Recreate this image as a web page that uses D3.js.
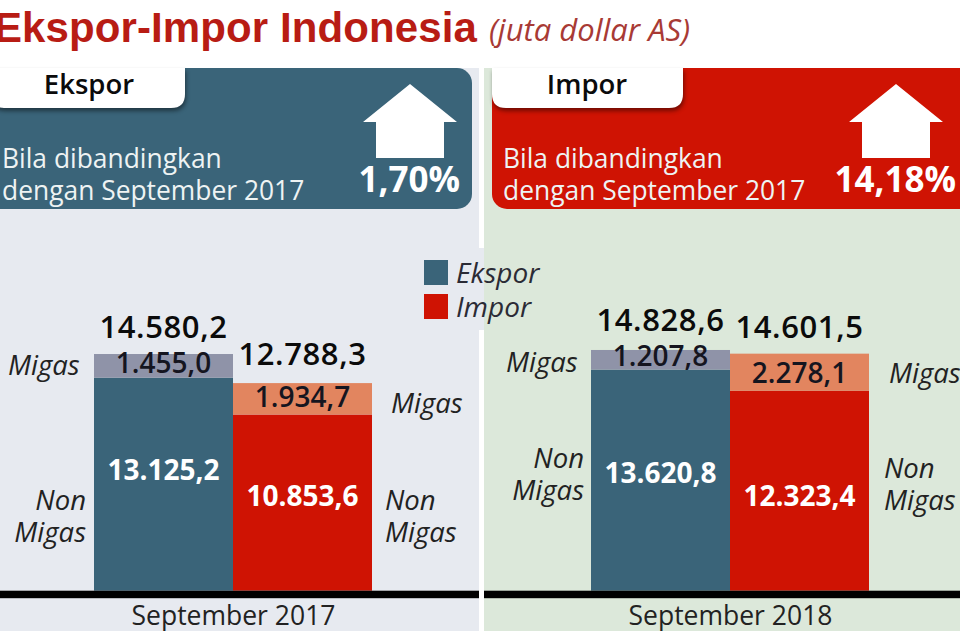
<!DOCTYPE html>
<html>
<head>
<meta charset="utf-8">
<script src="https://cdn.jsdelivr.net/npm/d3@7"></script>
<style>
  html, body { margin: 0; padding: 0; background: #fff; }
  svg { display: block; }
  text { font-family: "Open Sans", sans-serif; }
</style>
</head>
<body>
<div id="chart"></div>
<script>
/* Ekspor-impor Indonesia, juta dollar AS */
const periods = ["September 2017", "September 2018"];
const seriesNames = ["Ekspor", "Impor"];
const migas = [[1455.0, 1934.7], [1207.8, 2278.1]];
const nonMigas = [[13125.2, 10853.6], [13620.8, 12323.4]];
const totals = [[14580.2, 12788.3], [14828.6, 14601.5]];
const changes = ["1,70%", "14,18%"];

const width = 960, height = 631;
const baseY = 590.7;
const colors = { Ekspor: "#3a6479", Impor: "#cf1303" };
const migasColors = { Ekspor: "#8f93a8", Impor: "#e2855f" };
const panelBg = ["#e7eaf0", "#dce8da"];

// indonesian number format: 14.580,2
const idLocale = d3.formatLocale({ decimal: ",", thousands: ".", grouping: [3], currency: ["", ""] });
const fmt = idLocale.format(",.1f");

const svg = d3.select("#chart").append("svg")
    .attr("width", width).attr("height", height)
    .attr("viewBox", [0, 0, width, height]);

const x = d3.scalePoint().domain(periods).range([233, 730]);
const xInner = d3.scaleBand().domain(seriesNames).range([-139, 139]);
const y = d3.scaleLinear().domain([0, 15000]).range([baseY, baseY - 243.5]);

/* panel backgrounds */
const panelX = [0, 484], panelW = [479, 476];
svg.selectAll(".bg").data(periods).join("rect")
    .attr("class", "bg")
    .attr("x", (d, i) => panelX[i]).attr("y", 68)
    .attr("width", (d, i) => panelW[i]).attr("height", height - 68)
    .attr("fill", (d, i) => panelBg[i]);
/* legend patch bridges the gap */
svg.append("rect").attr("x", 479).attr("y", 248).attr("width", 5).attr("height", 82).attr("fill", panelBg[0]);

/* title */
svg.append("text").attr("x", -6).attr("y", 42)
    .style("font-family", "'Liberation Sans', Arial, sans-serif")
    .style("font-size", "42px").style("font-weight", 700).style("letter-spacing", "0.1px").attr("fill", "#b81c14")
    .text("Ekspor-Impor Indonesia");
svg.append("text").attr("x", 489).attr("y", 41)
    .style("font-size", "31px").style("font-style", "italic").attr("fill", "#a83a35")
    .text("(juta dollar AS)");

/* header boxes */
const boxX = [-14, 492], boxW = [486, 490];
const tabX = [-10, 492], tabW = [195, 191], tabTextX = [89, 587];
const arrowX = [410, 896];
const header = svg.selectAll(".header").data(seriesNames).join("g").attr("class", "header");
header.append("rect")
    .attr("x", (d, i) => boxX[i]).attr("y", 68)
    .attr("width", (d, i) => boxW[i]).attr("height", 141).attr("rx", 15)
    .attr("fill", d => colors[d]);
/* tab hangs from the top of the box: flat top, round bottom corners */
header.append("path")
    .attr("d", (d, i) => {
        const l = tabX[i], r = l + tabW[i], t = 68, b = 108, c = 14;
        return `M${l},${t} H${r} V${b - c} Q${r},${b} ${r - c},${b} H${l + c} Q${l},${b} ${l},${b - c} Z`;
    })
    .attr("fill", "#fff")
    .style("filter", "drop-shadow(1px 3px 2px rgba(0,0,0,.45))");
header.append("text")
    .attr("x", (d, i) => tabTextX[i]).attr("y", 94).attr("text-anchor", "middle")
    .style("font-size", "27.5px").style("font-weight", 600).attr("fill", "#0b0b0b")
    .text(d => d);
header.append("path")
    .attr("d", (d, i) => {
        const a = arrowX[i];
        return `M${a},84 L${a + 47},122 L${a + 34},122 L${a + 34},158 L${a - 34},158 L${a - 34},122 L${a - 47},122 Z`;
    })
    .attr("fill", "#fff");
header.each(function (d, i) {
    const g = d3.select(this);
    const tx = i ? 503 : 2;
    g.append("text").attr("x", tx).attr("y", 168).style("font-size", "26.4px").attr("fill", "#eef3f3").text("Bila dibandingkan");
    g.append("text").attr("x", tx).attr("y", 200).style("font-size", "26.4px").attr("fill", "#eef3f3").text("dengan September 2017");
    g.append("text").attr("x", i ? 956 : 460).attr("y", 192).attr("text-anchor", "end")
        .style("font-size", "35px").style("font-weight", 700).attr("fill", "#fff").text(changes[i]);
});

/* legend */
const legend = svg.selectAll(".legend").data(seriesNames).join("g").attr("class", "legend")
    .attr("transform", (d, i) => `translate(424,${260 + i * 34})`);
legend.append("rect").attr("width", 24).attr("height", 25).attr("fill", d => colors[d]);
legend.append("text").attr("x", 32).attr("y", 23)
    .style("font-size", "28px").style("font-style", "italic").attr("fill", "#2b2b35").text(d => d);

/* stacked bars */
const rows = periods.flatMap((p, i) => seriesNames.map((s, j) => ({
    period: p, series: s, migas: migas[i][j], nonMigas: nonMigas[i][j], total: totals[i][j]
})));
const barX = d => x(d.period) + xInner(d.series);

const bar = svg.selectAll(".bar").data(rows).join("g").attr("class", "bar");
bar.append("rect")
    .attr("x", barX).attr("width", xInner.bandwidth())
    .attr("y", d => y(d.nonMigas)).attr("height", d => y(0) - y(d.nonMigas))
    .attr("fill", d => colors[d.series]);
bar.append("rect")
    .attr("x", barX).attr("width", xInner.bandwidth())
    .attr("y", d => y(d.nonMigas + d.migas)).attr("height", d => y(d.nonMigas) - y(d.nonMigas + d.migas))
    .attr("fill", d => migasColors[d.series]);

const barMid = d => barX(d) + xInner.bandwidth() / 2;
/* value labels sit at hand-read offsets from bar tops, reference isn't regular */
const totalOff = [[16, 18], [19, 16]];
const migasOff = [[19, 24], [16, 29]];
const nonOff = [[102, 91], [113, 115]];
const pos = d => [periods.indexOf(d.period), seriesNames.indexOf(d.series)];

bar.append("text").text(d => fmt(d.total))
    .attr("x", barMid).attr("y", d => { const [i, j] = pos(d); return y(d.total) - totalOff[i][j]; })
    .attr("text-anchor", "middle")
    .style("font-size", "31px").style("font-weight", 600).style("letter-spacing", "0.6px").attr("fill", "#0b0b0b");
bar.append("text").text(d => fmt(d.migas))
    .attr("x", barMid).attr("y", d => { const [i, j] = pos(d); return y(d.total) + migasOff[i][j]; })
    .attr("text-anchor", "middle")
    .style("font-size", "28px").style("font-weight", 600).attr("fill", "#15151f");
bar.append("text").text(d => fmt(d.nonMigas))
    .attr("x", barMid).attr("y", d => { const [i, j] = pos(d); return y(d.nonMigas) + nonOff[i][j]; })
    .attr("text-anchor", "middle")
    .style("font-size", "28px").style("font-weight", 700).attr("fill", "#fff");

/* Migas / Non Migas side labels */
const side = (lx, ly, anchor, lines) => {
    lines.forEach((t, k) => svg.append("text").attr("x", lx).attr("y", ly + k * 32)
        .attr("text-anchor", anchor)
        .style("font-size", "27.5px").style("font-style", "italic").attr("fill", "#222").text(t));
};
side(8, 375, "start", ["Migas"]);
side(86, 510, "end", ["Non", "Migas"]);
side(391, 413, "start", ["Migas"]);
side(385, 510, "start", ["Non", "Migas"]);
side(506, 372, "start", ["Migas"]);
side(584, 468, "end", ["Non", "Migas"]);
side(889, 383, "start", ["Migas"]);
side(884, 478, "start", ["Non", "Migas"]);

/* baseline and category axis */
svg.selectAll(".base").data(periods).join("rect").attr("class", "base")
    .attr("x", (d, i) => panelX[i]).attr("y", baseY)
    .attr("width", (d, i) => panelW[i]).attr("height", 7.5).attr("fill", "#000");

const xAxis = svg.append("g")
    .attr("transform", `translate(0,${baseY + 7})`)
    .call(d3.axisBottom(x).tickSize(0).tickPadding(8));
xAxis.select(".domain").remove();
xAxis.selectAll("text")
    .style("font-family", "'Open Sans', sans-serif").style("font-size", "26.5px").attr("fill", "#222");
</script>
</body>
</html>
